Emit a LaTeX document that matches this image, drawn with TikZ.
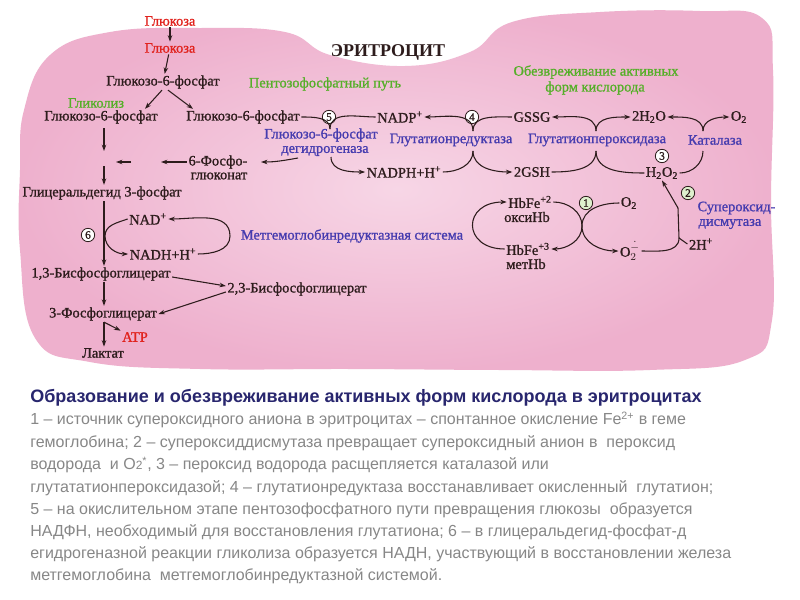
\documentclass[tikz,border=0pt]{standalone}
\usepackage{fontspec}
\usetikzlibrary{arrows.meta,calc}
\setmainfont{Liberation Serif}
\newfontfamily\dfont{Liberation Serif}[FakeBold=1.1]
\newfontfamily\cfont{Liberation Sans}
\definecolor{dark}{RGB}{45,28,28}
\definecolor{redt}{RGB}{225,35,30}
\definecolor{greent}{RGB}{85,175,40}
\definecolor{bluet}{RGB}{70,60,175}
\definecolor{navy}{RGB}{40,38,110}
\definecolor{grayt}{RGB}{135,135,135}
\definecolor{pinkin}{RGB}{247,214,230}
\definecolor{pinkout}{RGB}{238,176,205}
\tikzset{
 txt/.style={inner sep=1pt, text=dark, font=\dfont\fontsize{10.8}{12}\selectfont},
 txtred/.style={txt, text=redt},
 txtgreen/.style={txt, text=greent},
 txtblue/.style={txt, text=bluet},
 arr/.style={draw=dark, line width=0.8pt, -{Stealth[length=4.8pt,width=3.4pt]}},
 ln/.style={draw=dark, line width=0.8pt},
 num/.style={circle, draw=dark, fill=white, line width=0.6pt, inner sep=0pt, minimum size=10pt, font=\dfont\fontsize{8.5}{9}\selectfont, text=dark},
 numg/.style={num, fill={rgb,255:red,222;green,240;blue,205}},
 capl/.style={anchor=west, inner sep=0pt, text=grayt, font=\cfont\fontsize{12}{14}\selectfont},
}
\begin{document}
\begin{tikzpicture}[x=0.75pt,y=-0.75pt]
\useasboundingbox (0,0) rectangle (800,600);
\fill[white] (0,0) rectangle (800,600);
% cell blob
\shade[inner color=pinkin, outer color=pinkout] plot[smooth cycle, tension=0.7] coordinates {(24,110) (50,55) (110,32) (200,28) (285,32) (330,55) (405,66) (470,52) (512,22) (600,12) (700,11) (762,18) (773,70) (771,200) (772,320) (745,360) (650,370) (500,370) (350,369) (200,369) (90,362) (35,338) (20,250) (20,170)};

% ---------- nodes ----------
\node[txtred] (glc0) at (170,21) {Глюкоза};
\node[txtred] (glc1) at (170,48) {Глюкоза};
\node[txt] (g6p) at (163,82) {Глюкозо-6-фосфат};
\node[txtgreen] (glyc) at (96,103) {Гликолиз};
\node[txt] (g6pL) at (101,117) {Глюкозо-6-фосфат};
\node[txt] (g6pR) at (243,117) {Глюкозо-6-фосфат};
\node[txt, font=\rmfamily\bfseries\fontsize{13.5}{14}\selectfont] (ery) at (388,52) {ЭРИТРОЦИТ};
\node[txtgreen] (pfp) at (325,84) {Пентозофосфатный путь};
\node[txtgreen] (obez1) at (596,72) {Обезвреживание активных};
\node[txtgreen] (obez2) at (595,88) {форм кислорода};
\node[num] (c5) at (329,117) {5};
\node[txt] (nadp) at (400,117) {NADP\textsuperscript{+}};
\node[num] (c4) at (472,117) {4};
\node[txt] (gssg) at (532,117) {GSSG};
\node[txt] (h2o) at (649,117) {2H\textsubscript{2}O};
\node[txt] (o2t) at (739,117) {O\textsubscript{2}};
\node[txtblue] (g6pdh1) at (321,135) {Глюкозо-6-фосфат};
\node[txtblue] (g6pdh2) at (325,151) {дегидрогеназа};
\node[txtblue] (gr) at (451,140) {Глутатионредуктаза};
\node[txtblue] (gpx) at (597,140) {Глутатионпероксидаза};
\node[txtblue] (cat) at (715,140) {Каталаза};
\node[txt] (pg6a) at (218,162) {6-Фосфо-};
\node[txt] (pg6b) at (219,176) {глюконат};
\node[txt] (nadph) at (404,172) {NADPH+H\textsuperscript{+}};
\node[txt] (gsh) at (532,172) {2GSH};
\node[txt] (h2o2) at (662,173) {H\textsubscript{2}O\textsubscript{2}};
\node[num] (c3) at (662,156) {3};
\node[txt] (gap) at (102,193) {Глицеральдегид 3-фосфат};
\node[txt] (nad) at (148,219) {NAD\textsuperscript{+}};
\node[txt] (nadh) at (163,254) {NADH+H\textsuperscript{+}};
\node[num] (c6) at (88,235) {6};
\node[txtblue] (mhr) at (352,236) {Метгемоглобинредуктазная система};
\node[txt] (bpg13) at (101,274) {1,3-Бисфосфоглицерат};
\node[txt] (bpg23) at (297,289) {2,3-Бисфосфоглицерат};
\node[txt] (pg3) at (103,314) {3-Фосфоглицерат};
\node[txtred] (atp) at (135,337) {ATP};
\node[txt] (lac) at (103,353) {Лактат};
\node[txt] (hb2) at (530,202) {HbFe\textsuperscript{+2}};
\node[txt] (oxy) at (527,217) {оксиHb};
\node[numg] (c1) at (586,203) {1};
\node[txt] (o2) at (629,203) {O\textsubscript{2}};
\node[txt] (hb3) at (528,249) {HbFe\textsuperscript{+3}};
\node[txt] (met) at (526,264) {метHb};
\node[txt] (o2m) at (630,251) {${\hbox{O}}_2^{\dot{-}}$};
\node[numg] (c2) at (688,193) {2};
\node[txtblue, anchor=west] (sod1) at (696,208) {Супероксид-};
\node[txtblue, anchor=west] (sod2) at (697,224) {дисмутаза};
\node[txt] (h2p) at (701,244) {2H\textsuperscript{+}};

% ---------- helper coordinates ----------
\coordinate (a1) at (104,128);
\coordinate (a2) at (104,151);
\coordinate (a3) at (104,166);
\coordinate (h1) at (131,162);
\coordinate (n6l) at (105,236);
\coordinate (n6r) at (230,236);
\coordinate (x5t) at (330,129);
\coordinate (x5b) at (331,157);
\coordinate (x5l) at (298,158);
\coordinate (x4t) at (473,131);
\coordinate (x4b) at (473,151);
\coordinate (xgt) at (596,131);
\coordinate (xgb) at (596,151);
\coordinate (xct) at (703,131);
\coordinate (xcb) at (703,151);
\coordinate (x1) at (582,226);
\coordinate (s1) at (679,238);
\coordinate (s2) at (678,208);

% ---------- glycolysis ----------
\draw[arr] (glc0) -- (glc1);
\draw[arr] (glc1) -- (g6p);
\draw[arr] ($(g6p.south)+(-1,0)$) -- ($(g6pL.north)+(44,0)$);
\draw[arr] ($(g6p.south)+(5,0)$) -- ($(g6pR.north)+(-50,0)$);
\draw[arr] (a1) -- (a2);
\draw[arr] (a3) -- (gap.north -| a3);
\draw[arr] (pg6a.west) -- ++(-26,0);
\draw[arr] (h1) -- ++(-15,0);
\draw[arr] (gap.south -| a3) -- (bpg13.north -| a3);
\draw[arr] (bpg13.south -| a3) -- (pg3.north -| a3);
\draw[arr] (pg3.south -| a3) -- (lac.north -| a3);
\draw[arr] (pg3.south -| a3) -- (atp.north west);
\draw[arr] ($(bpg13.east)+(0,3)$) -- ($(bpg23.west)+(0,-3)$);
\draw[arr] ($(bpg23.west)+(0,3)$) -- (pg3.east);
\draw[arr] (nad.west) to[out=200,in=90] (n6l) to[out=-90,in=180] (nadh.west);
\draw[arr] (nadh.east) to[out=0,in=-90] (n6r) to[out=90,in=0] (nad.east);

% ---------- pentose phosphate (5) ----------
\draw[ln] (g6pR.east) to[out=0,in=90] (x5t);
\draw[ln] (nadp.west) to[out=180,in=90] (x5t);
\draw[arr] (x5b) to[out=-90,in=180] (nadph.west);
\draw[arr] (x5l) to[out=190,in=0] ($(pg6a.east)+(12,0)$);

% ---------- glutathione reductase (4) ----------
\draw[ln] (nadph.east) to[out=0,in=-90] (x4b);
\draw[arr] (x4t) to[out=90,in=0] (nadp.east);
\draw[ln] (gssg.west) to[out=180,in=90] (x4t);
\draw[arr] (x4b) to[out=-90,in=180] (gsh.west);

% ---------- glutathione peroxidase ----------
\draw[ln] (gsh.east) to[out=0,in=-90] (xgb);
\draw[arr] (xgt) to[out=90,in=0] (gssg.east);
\draw[ln] (h2o2.west) to[out=180,in=-90] (xgb);
\draw[arr] (xgt) to[out=90,in=180] (h2o.west);

% ---------- catalase ----------
\draw[ln] (h2o2.east) to[out=0,in=-90] (xcb);
\draw[arr] (xct) to[out=90,in=0] (h2o.east);
\draw[arr] (xct) to[out=90,in=180] (o2t.west);

% ---------- (1) haemoglobin ----------
\draw[arr] (hb2.east) to[out=0,in=90] (x1) to[out=-90,in=0] (hb3.east);
\draw[arr] (o2.west) to[out=180,in=90] (x1) to[out=-90,in=180] (o2m.west);
\draw[arr] (hb3.west) .. controls (462,249) and (462,202) .. (hb2.west);

% ---------- (2) SOD ----------
\draw[arr] (o2m.east) to[out=0,in=-90] (s1) -- (s2) -- (h2o2.south);
\draw[ln] (s1) -- (h2p.west);

% ---------- caption ----------
\node[anchor=west, inner sep=0pt, text=navy, font=\cfont\bfseries\fontsize{13.5}{15}\selectfont] (title) at (30,398) {Образование и обезвреживание активных форм кислорода в эритроцитах};
\node[capl] (l1) at (30,420) {1 – источник супероксидного аниона в эритроцитах – спонтанное окисление Fe\textsuperscript{2+} в геме};
\node[capl] (l2) at (30,443) {гемоглобина; 2 – супероксиддисмутаза превращает супероксидный анион в\ \ пероксид};
\node[capl] (l3) at (30,465) {водорода\ \ и O{\fontsize{9}{9}\selectfont 2}\textsuperscript{*}, 3 – пероксид водорода расщепляется каталазой или};
\node[capl] (l4) at (30,488) {глутататионпероксидазой; 4 – глутатионредуктаза восстанавливает окисленный\ \ глутатион;};
\node[capl] (l5) at (30,510) {5 – на окислительном этапе пентозофосфатного пути превращения глюкозы\ \ образуется};
\node[capl] (l6) at (30,532) {НАДФН, необходимый для восстановления глутатиона; 6 – в глицеральдегид-фосфат-д};
\node[capl] (l7) at (30,554) {егидрогеназной реакции гликолиза образуется НАДН, участвующий в восстановлении железа};
\node[capl] (l8) at (30,576) {метгемоглобина\ \ метгемоглобинредуктазной системой.};
\end{tikzpicture}
\end{document}
